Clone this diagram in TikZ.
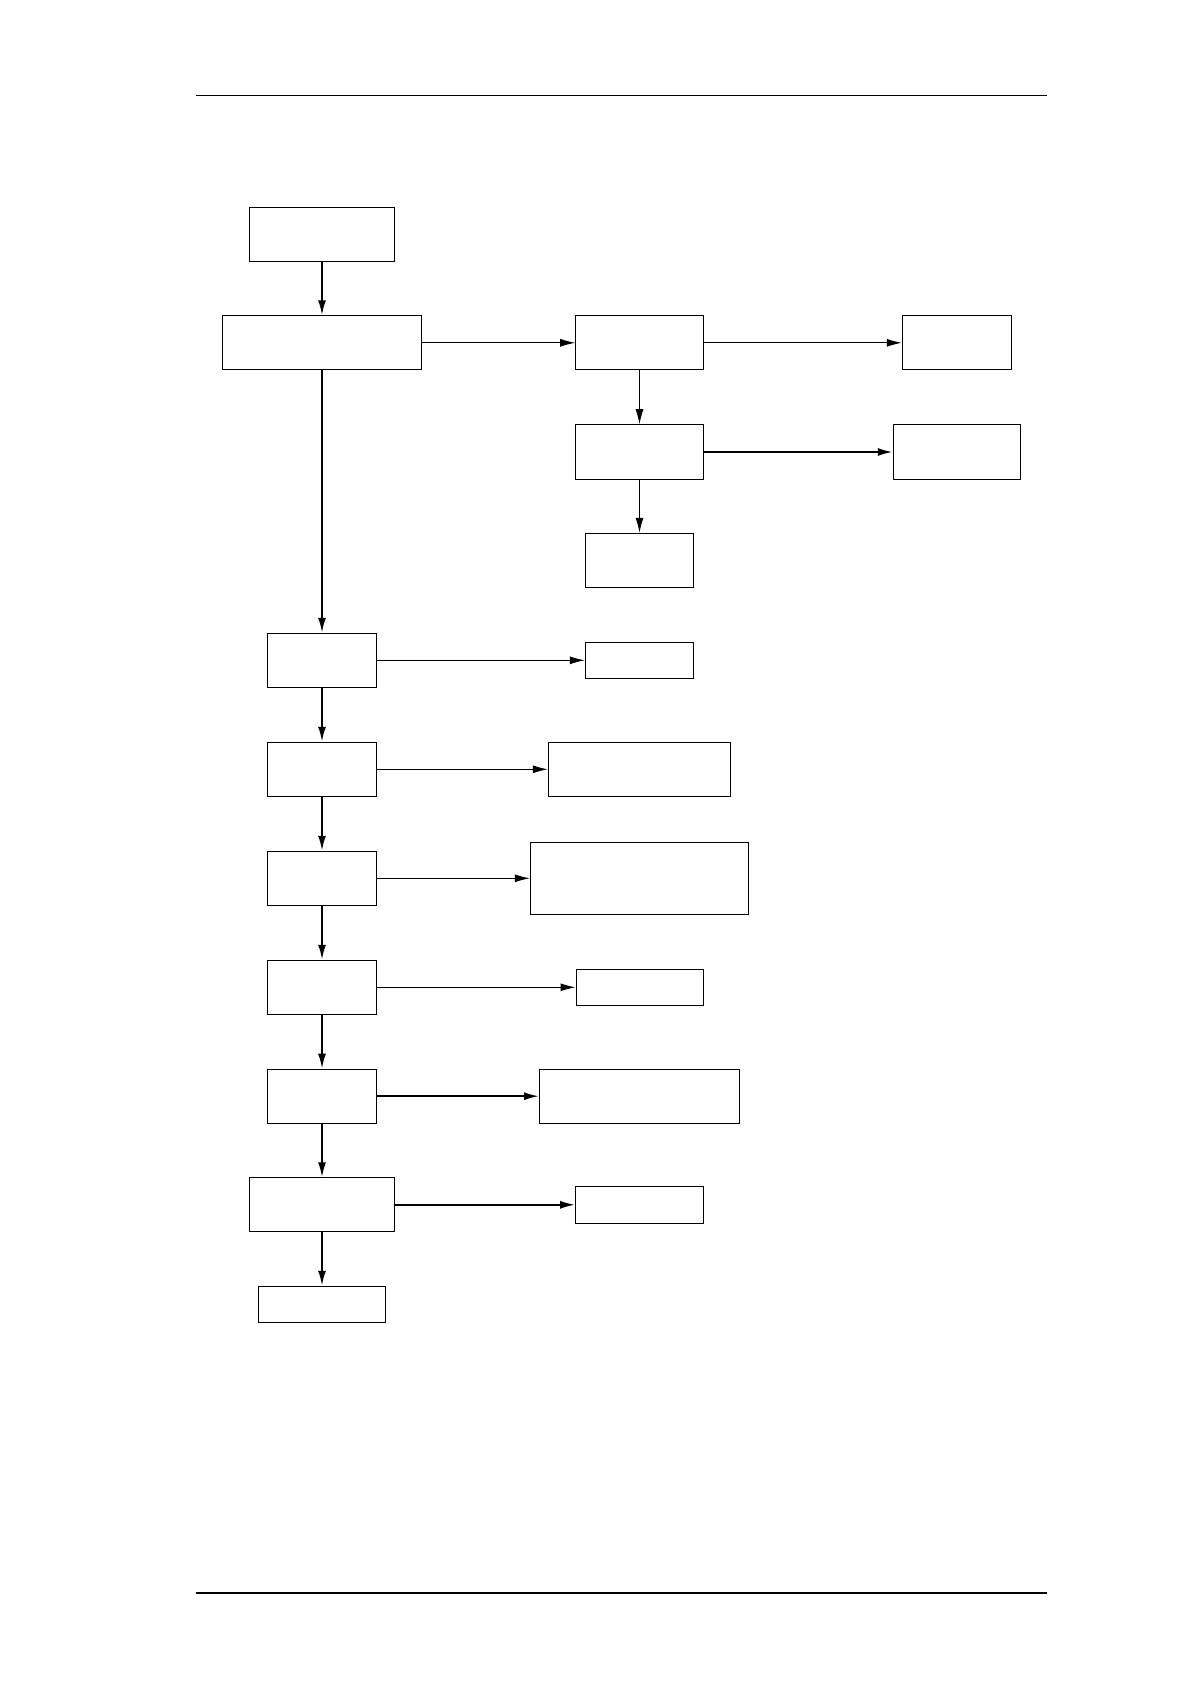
\documentclass[tikz,border=0pt]{standalone}
\usetikzlibrary{arrows.meta,positioning}
\tikzset{
  box/.style={draw=black,line width=0.5pt,inner sep=0pt,minimum height=27pt},
  arrow/.style={-{Latex[length=7.5pt,width=4pt]},line width=0.5pt},
  thickarrow/.style={arrow,line width=1pt}
}

\begin{document}
\begin{tikzpicture}[x=0.5pt,y=-0.5pt]
  \useasboundingbox (0,0) rectangle (1188,1684);
  % page rules
  \draw[line width=0.6pt] (195.5,95.6) -- (1047.3,95.6);
  \draw[line width=0.6pt] (195.5,1593) -- (1047.3,1593);
  % main column
  \node[box,minimum width=72.5pt] (start) at (322,234.3) {};
  \node[box,minimum width=99.5pt] (entry) at (322,342.8) {};
  \node[box,minimum width=54.7pt] (stepA) at (322,660.3) {};
  \node[box,minimum width=54.7pt] (stepB) at (322,769.3) {};
  \node[box,minimum width=54.7pt] (stepC) at (322,878.3) {};
  \node[box,minimum width=54.7pt] (stepD) at (322,987.3) {};
  \node[box,minimum width=54.7pt] (stepE) at (322,1096.2) {};
  \node[box,minimum width=72.7pt] (stepF) at (322,1204.8) {};
  \node[box,minimum width=63.5pt,minimum height=18pt] (finish) at (322,1304.3) {};
  % upper branch
  \node[box,minimum width=63.8pt] (branch) at (639.5,342.8) {};
  \node[box,minimum width=54.7pt] (branchout) at (957,342.8) {};
  \node[box,minimum width=63.8pt,minimum height=27.3pt] (check) at (639.5,452) {};
  \node[box,minimum width=63.7pt,minimum height=27.3pt] (checkout) at (957,452) {};
  \node[box,minimum width=54.2pt,minimum height=27.2pt] (checkend) at (639.5,560.5) {};
  % side outputs
  \node[box,minimum width=54.2pt,minimum height=18pt] (outA) at (639.5,660.3) {};
  \node[box,minimum width=91.2pt] (outB) at (639.5,769.3) {};
  \node[box,minimum width=109.2pt,minimum height=36pt] (outC) at (639.5,878.3) {};
  \node[box,minimum width=63.5pt,minimum height=18pt] (outD) at (639.5,987.3) {};
  \node[box,minimum width=100pt,minimum height=27.2pt] (outE) at (639.5,1096.2) {};
  \node[box,minimum width=63.8pt,minimum height=18.2pt] (outF) at (639.5,1204.8) {};
  % connectors
  \draw[thickarrow] (start) -- (entry);
  \draw[thickarrow] (entry) -- (stepA);
  \draw[thickarrow] (stepA) -- (stepB);
  \draw[thickarrow] (stepB) -- (stepC);
  \draw[thickarrow] (stepC) -- (stepD);
  \draw[thickarrow] (stepD) -- (stepE);
  \draw[thickarrow] (stepE) -- (stepF);
  \draw[thickarrow] (stepF) -- (finish);
  \draw[arrow] (entry) -- (branch);
  \draw[arrow] (branch) -- (branchout);
  \draw[arrow] (branch) -- (check);
  \draw[thickarrow] (check) -- (checkout);
  \draw[arrow] (check) -- (checkend);
  \draw[arrow] (stepA) -- (outA);
  \draw[arrow] (stepB) -- (outB);
  \draw[arrow] (stepC) -- (outC);
  \draw[arrow] (stepD) -- (outD);
  \draw[thickarrow] (stepE) -- (outE);
  \draw[thickarrow] (stepF) -- (outF);
\end{tikzpicture}
\end{document}
